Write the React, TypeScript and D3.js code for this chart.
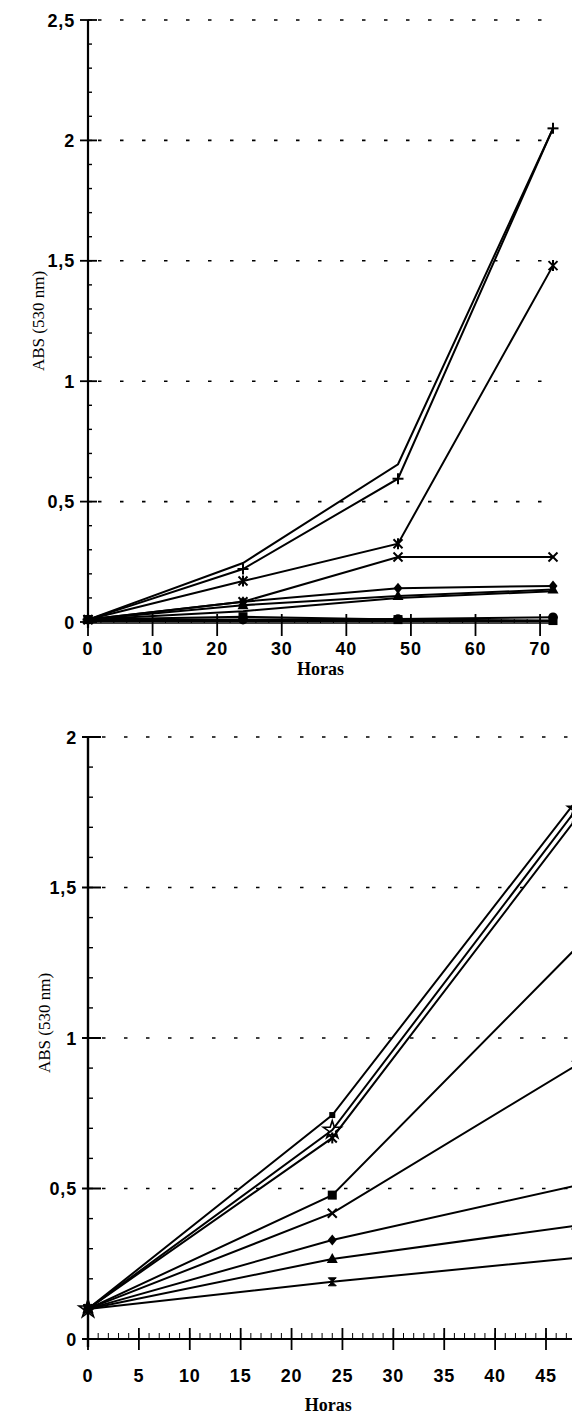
import React from "react";
import * as d3 from "d3";

// ---------- DATA ----------
const topHours = [0, 24, 48, 72];
const topSeriesNames = ["S1", "S2", "S3", "S4", "S5", "S6", "S7", "S8", "S9", "S10"];
const topMarkers = ["none", "plus", "asterisk", "x", "diamond", "triangle", "none", "square", "circle", "none"];
const topS1 = [0.01, 0.245, 0.655, 2.05];
const topS2 = [0.01, 0.22, 0.595, 2.05];
const topS3 = [0.01, 0.17, 0.325, 1.48];
const topS4 = [0.01, 0.084, 0.27, 0.27];
const topS5 = [0.01, 0.084, 0.14, 0.15];
const topS6 = [0.01, 0.07, 0.108, 0.135];
const topS7 = [0.01, 0.045, 0.1, 0.128];
const topS8 = [0.01, 0.022, 0.01, 0.006];
const topS9 = [0.01, 0.01, 0.012, 0.02];
const topS10 = [0.004, 0.004, 0.004, 0.004];
const topValues = [topS1, topS2, topS3, topS4, topS5, topS6, topS7, topS8, topS9, topS10];
const topXTicks = [0, 10, 20, 30, 40, 50, 60, 70];
const topYTicks = [0, 0.5, 1, 1.5, 2, 2.5];
const topYTickLabels = ["0", "0,5", "1", "1,5", "2", "2,5"];

const botHours = [0, 24, 48];
const botMarkers = ["dot", "star", "asterisk", "square", "x", "diamond", "triangle", "hourglass"];
const botB1 = [0.1, 0.744, 1.79];
const botB2 = [0.1, 0.694, 1.76];
const botB3 = [0.1, 0.668, 1.73];
const botB4 = [0.1, 0.478, 1.3];
const botB5 = [0.1, 0.418, 0.91];
const botB6 = [0.1, 0.329, 0.51];
const botB7 = [0.1, 0.266, 0.377];
const botB8 = [0.1, 0.19, 0.27];
const botValues = [botB1, botB2, botB3, botB4, botB5, botB6, botB7, botB8];
const botXTicks = [0, 5, 10, 15, 20, 25, 30, 35, 40, 45];
const botYTicks = [0, 0.5, 1, 1.5, 2];
const botYTickLabels = ["0", "0,5", "1", "1,5", "2"];

const xLabel = "Horas";
const yLabel = "ABS (530 nm)";

// ---------- STYLE ----------
const tickFont = "'Liberation Sans', Arial, sans-serif";
const titleFont = "'Liberation Serif', 'Times New Roman', serif";

function Marker({ type, x, y }: { type: string; x: number; y: number }) {
  const s = 4.5;
  switch (type) {
    case "plus":
      return (
        <g stroke="#000" strokeWidth={2}>
          <line x1={x - s - 1} y1={y} x2={x + s + 1} y2={y} />
          <line x1={x} y1={y - s - 1} x2={x} y2={y + s + 1} />
        </g>
      );
    case "x":
      return (
        <g stroke="#000" strokeWidth={2}>
          <line x1={x - s} y1={y - s} x2={x + s} y2={y + s} />
          <line x1={x - s} y1={y + s} x2={x + s} y2={y - s} />
        </g>
      );
    case "asterisk":
      return (
        <g stroke="#000" strokeWidth={2}>
          <line x1={x - s} y1={y - s} x2={x + s} y2={y + s} />
          <line x1={x - s} y1={y + s} x2={x + s} y2={y - s} />
          <line x1={x} y1={y - s - 1} x2={x} y2={y + s + 1} />
        </g>
      );
    case "hourglass":
      return (
        <g fill="#000" stroke="#000" strokeWidth={1}>
          <path d={`M${x - 4},${y - 4}L${x + 4},${y - 4}L${x - 4},${y + 4}L${x + 4},${y + 4}Z`} />
        </g>
      );
    case "star":
      return (
        <path
          d={d3.symbol(d3.symbolStar, 100)() as string}
          transform={`translate(${x},${y})`}
          fill="none"
          stroke="#000"
          strokeWidth={1.6}
        />
      );
    case "diamond":
      return <path d={`M${x},${y - 5.5}L${x + 4.5},${y}L${x},${y + 5.5}L${x - 4.5},${y}Z`} fill="#000" />;
    case "triangle":
      return <path d={`M${x},${y - 6}L${x + 5.5},${y + 4}L${x - 5.5},${y + 4}Z`} fill="#000" />;
    case "square":
      return <rect x={x - 4.5} y={y - 4.5} width={9} height={9} fill="#000" />;
    case "circle":
      return <circle cx={x} cy={y} r={4.8} fill="#000" />;
    case "dot":
      return <rect x={x - 3} y={y - 3} width={6} height={6} fill="#000" />;
    default:
      return null;
  }
}

function DottedGrid({ y, x1, x2 }: { y: number; x1: number; x2: number }) {
  return (
    <line x1={x1} y1={y} x2={x2} y2={y} stroke="#000" strokeWidth={1.6} strokeDasharray="3.5 18.5" />
  );
}

export default function App() {
  const xT = d3.scaleLinear().domain([0, 72]).range([88, 553]);
  const yT = d3.scaleLinear().domain([0, 2.5]).range([622, 20]);
  const xB = d3.scaleLinear().domain([0, 45]).range([88, 546]);
  const yB = d3.scaleLinear().domain([0, 2]).range([1339, 737]);

  const lineT = d3
    .line<number>()
    .x((_, i) => xT(topHours[i]))
    .y((d) => yT(d));
  const lineB = d3
    .line<number>()
    .x((_, i) => xB(botHours[i]))
    .y((d) => yB(d));

  const topMinorY = d3.range(0, 2.51, 0.1);
  const botMinorY = d3.range(0, 2.01, 0.1);
  const topMinorX = d3.range(0, 73, 2);
  const botMinorX = d3.range(0, 48, 1);

  return (
    <svg
      width={572}
      height={1419}
      style={{ position: "absolute", left: 0, top: 0, background: "#fff" }}
    >
      <rect x={0} y={0} width={572} height={1419} fill="#fff" />
      {/* ================= TOP CHART ================= */}
      <g>
        {topYTicks
          .filter((t) => t > 0)
          .map((t) => (
            <DottedGrid key={t} y={yT(t)} x1={98} x2={556} />
          ))}
        <line x1={88} y1={yT(2.5)} x2={88} y2={yT(0) + 6} stroke="#000" strokeWidth={2.2} />
        {topMinorY.map((t, i) => (
          <line key={i} x1={88} x2={92} y1={yT(t)} y2={yT(t)} stroke="#000" strokeWidth={1.4} />
        ))}
        {topYTicks.map((t) => (
          <line key={t} x1={80} x2={97} y1={yT(t)} y2={yT(t)} stroke="#000" strokeWidth={1.8} />
        ))}
        {topYTicks.map((t, i) => (
          <text
            key={t}
            x={75}
            y={yT(t) + 6.5}
            textAnchor="end"
            fontFamily={tickFont}
            fontWeight="bold"
            fontSize={18}
            letterSpacing={0.8}
          >
            {topYTickLabels[i]}
          </text>
        ))}
        <line x1={90} x2={556} y1={yT(0) + 1} y2={yT(0) + 1} stroke="#000" strokeWidth={1.6} />
        {topMinorX.map((t) => (
          <line key={t} x1={xT(t)} x2={xT(t)} y1={yT(0) - 3} y2={yT(0) + 1} stroke="#000" strokeWidth={1} />
        ))}
        {topXTicks.map((t) => (
          <line key={t} x1={xT(t)} x2={xT(t)} y1={yT(0) - 8} y2={yT(0) + 14} stroke="#000" strokeWidth={1.8} />
        ))}
        {topXTicks.map((t) => (
          <text
            key={t}
            x={xT(t)}
            y={655}
            textAnchor="middle"
            fontFamily={tickFont}
            fontWeight="bold"
            fontSize={18}
            letterSpacing={0.8}
          >
            {t}
          </text>
        ))}
        <text x={xT(36)} y={675} textAnchor="middle" fontFamily={titleFont} fontWeight="bold" fontSize={18}>
          {xLabel}
        </text>
        <text
          transform={`translate(44,${yT(1.25)}) rotate(-90)`}
          textAnchor="middle"
          fontFamily={titleFont}
          fontSize={17}
        >
          {yLabel}
        </text>
        {topValues.map((vals, si) => (
          <path key={topSeriesNames[si]} d={lineT(vals) as string} fill="none" stroke="#000" strokeWidth={2} />
        ))}
        {topValues.map((vals, si) =>
          vals.map((v, i) => <Marker key={`${si}-${i}`} type={topMarkers[si]} x={xT(topHours[i])} y={yT(v)} />)
        )}
      </g>

      {/* ================= BOTTOM CHART ================= */}
      <g>
        {botYTicks
          .filter((t) => t > 0)
          .map((t) => (
            <DottedGrid key={t} y={yB(t)} x1={102} x2={572} />
          ))}
        <line x1={88} y1={yB(2)} x2={88} y2={yB(0) + 8} stroke="#000" strokeWidth={2.4} />
        {botMinorY.map((t, i) => (
          <line key={i} x1={88} x2={93} y1={yB(t)} y2={yB(t)} stroke="#000" strokeWidth={1.4} />
        ))}
        {botYTicks.map((t) => (
          <line key={t} x1={82} x2={101} y1={yB(t)} y2={yB(t)} stroke="#000" strokeWidth={2} />
        ))}
        {botYTicks.map((t, i) => (
          <text
            key={t}
            x={77}
            y={yB(t) + 6.5}
            textAnchor="end"
            fontFamily={tickFont}
            fontWeight="bold"
            fontSize={18}
            letterSpacing={0.8}
          >
            {botYTickLabels[i]}
          </text>
        ))}
        <line x1={94} x2={572} y1={yB(0)} y2={yB(0)} stroke="#000" strokeWidth={2} />
        {botMinorX.map((t) => (
          <line key={t} x1={xB(t)} x2={xB(t)} y1={yB(0) - 6} y2={yB(0)} stroke="#000" strokeWidth={1} />
        ))}
        {botXTicks.map((t) => (
          <line key={t} x1={xB(t)} x2={xB(t)} y1={yB(0) - 11} y2={yB(0) + 11} stroke="#000" strokeWidth={1.8} />
        ))}
        {botXTicks.map((t) => (
          <text
            key={t}
            x={xB(t)}
            y={1382}
            textAnchor="middle"
            fontFamily={tickFont}
            fontWeight="bold"
            fontSize={18}
            letterSpacing={0.8}
          >
            {t}
          </text>
        ))}
        <text x={xB(23.6)} y={1411} textAnchor="middle" fontFamily={titleFont} fontWeight="bold" fontSize={18}>
          {xLabel}
        </text>
        <text
          transform={`translate(50,${yB(1.05)}) rotate(-90)`}
          textAnchor="middle"
          fontFamily={titleFont}
          fontSize={17}
        >
          {yLabel}
        </text>
        {botValues.map((vals, si) => (
          <path key={si} d={lineB(vals) as string} fill="none" stroke="#000" strokeWidth={2} />
        ))}
        {botValues.map((vals, si) =>
          vals.map((v, i) => <Marker key={`${si}-${i}`} type={botMarkers[si]} x={xB(botHours[i])} y={yB(v)} />)
        )}
      </g>
    </svg>
  );
}
